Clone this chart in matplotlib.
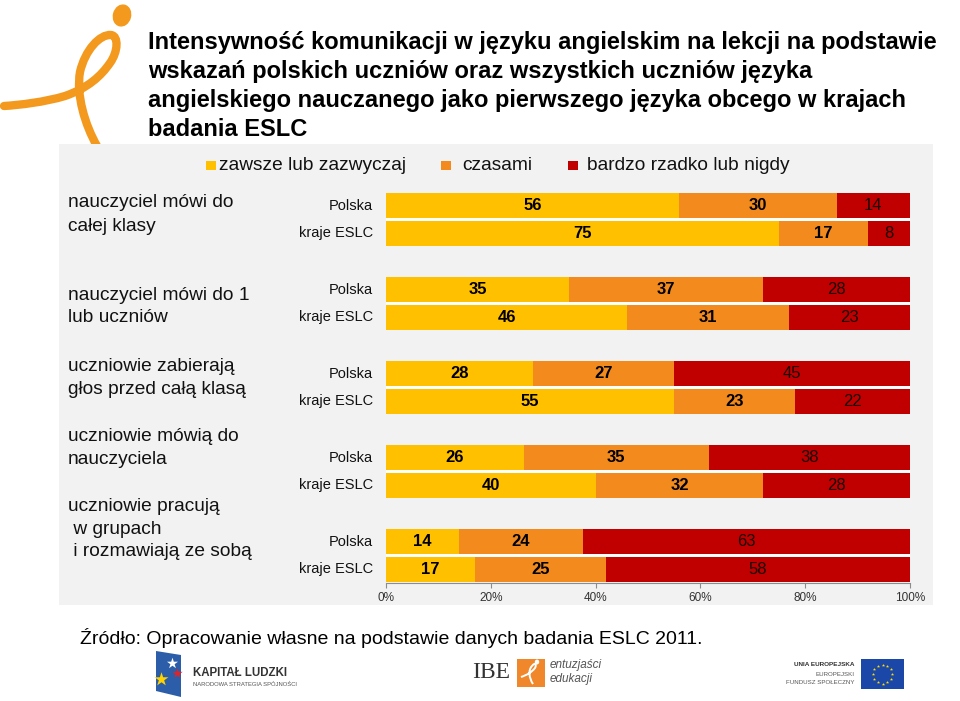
import numpy as np
import matplotlib
matplotlib.use("Agg")
import matplotlib.pyplot as plt
from matplotlib.patches import Rectangle, Ellipse, Polygon, PathPatch
from matplotlib.path import Path

plt.rcParams['font.family'] = ['Liberation Sans', 'DejaVu Sans']

# ---------------- data ----------------
title_lines = [
    "Intensywność komunikacji w języku angielskim na lekcji na podstawie",
    "wskazań polskich uczniów oraz wszystkich uczniów języka",
    "angielskiego nauczanego jako pierwszego języka obcego w krajach",
    "badania ESLC",
]
categories = [
    ["nauczyciel mówi do", "całej klasy"],
    ["nauczyciel mówi do 1", "lub uczniów"],
    ["uczniowie zabierają", "głos przed całą klasą"],
    ["uczniowie mówią do", "nauczyciela"],
    ["uczniowie pracują", " w grupach", " i rozmawiają ze sobą"],
]
groups = ["Polska", "kraje ESLC"]
series_names = ["zawsze lub zazwyczaj", "czasami", "bardzo rzadko lub nigdy"]
# values per category: [Polska, kraje ESLC]
zawsze = [[56, 75], [35, 46], [28, 55], [26, 40], [14, 17]]
czasami = [[30, 17], [37, 31], [27, 23], [35, 32], [24, 25]]
rzadko = [[14, 8], [28, 23], [45, 22], [38, 28], [63, 58]]
xticks = [0, 20, 40, 60, 80, 100]
xtick_labels = ["0%", "20%", "40%", "60%", "80%", "100%"]
source = "Źródło: Opracowanie własne na podstawie danych badania ESLC 2011."

colors = ["#FFC000", "#F28A1E", "#C00000"]
panel_col = "#F2F2F2"
logo_orange = "#F39A1E"

W, H = 960, 701
fig = plt.figure(figsize=(W / 100, H / 100), dpi=100)
fig.patch.set_facecolor("white")

# overlay axes in pixel coordinates
ax0 = fig.add_axes([0, 0, 1, 1], zorder=0)
ax0.set_xlim(0, W)
ax0.set_ylim(H, 0)
ax0.axis("off")

# logo (cursive i)
verts = [(97, 146), (85, 125), (76, 95), (80, 72),
         (85, 50), (100, 34), (111, 35),
         (119, 36), (118, 52), (110, 63),
         (101, 76), (88, 88), (65, 96),
         (45, 102), (20, 105), (4, 106)]
codes = [Path.MOVETO] + [Path.CURVE4] * 15
ax0.add_patch(PathPatch(Path(verts, codes), facecolor="none", edgecolor=logo_orange,
                        lw=6.0, capstyle="round", zorder=1))
ax0.add_patch(Ellipse((122, 15.5), 17, 21, angle=15, color=logo_orange, zorder=1))

# title
for i, line in enumerate(title_lines):
    ax0.text(148, 43 + 28.8 * i, line, fontsize=17, fontweight="bold",
             ha="left", va="center", color="black", zorder=3)

# grey panel
ax0.add_patch(Rectangle((59, 144), 933 - 59, 605 - 144, facecolor=panel_col,
                        edgecolor="none", zorder=2))

# legend
leg_sq_x = [206, 441, 568]
leg_tx_x = [219, 462, 587]
for c, name, sx, tx in zip(colors, series_names, leg_sq_x, leg_tx_x):
    ax0.add_patch(Rectangle((sx, 160.5), 9.5, 9.5, facecolor=c, edgecolor="none", zorder=3))
    ax0.text(tx, 165.5, name, fontsize=13.8, ha="left", va="center", color="#111111", zorder=3)

# category labels & group labels
pitch = 84
pol_c0, esl_c0 = 205.5, 233.5
cat_line_y = [[202.7, 226.7], [295, 318], [366.7, 390], [436.7, 459.3], [506.7, 529.3, 551.7]]
for lines, ys in zip(categories, cat_line_y):
    for ln, yy in zip(lines, ys):
        ax0.text(68, yy, ln, fontsize=13.8, ha="left", va="center", color="#111111", zorder=3)
for g in range(len(categories)):
    for k, lab in enumerate(groups):
        ax0.text(373, pol_c0 + pitch * g + 28 * k, lab, fontsize=10.5, ha="right",
                 va="center", color="#111111", zorder=3)

# source
ax0.text(80, 638, source, fontsize=14, ha="left", va="center", color="black", zorder=3)

# ---- footer logos ----
# Kapitał Ludzki
ax0.add_patch(Polygon([(156, 651), (181, 655), (181, 697), (156, 691)], closed=True,
                      facecolor="#2B5DA8", edgecolor="none", zorder=3))
ax0.scatter([172], [663], s=70, marker="*", color="white", zorder=4, linewidths=0)
ax0.scatter([177], [673], s=60, marker="*", color="#D7262E", zorder=4, linewidths=0)
ax0.scatter([161], [679], s=110, marker="*", color="#FFD200", zorder=4, linewidths=0)
ax0.text(193, 673, "KAPITAŁ LUDZKI", fontsize=8.3, fontweight="bold", color="#333333",
         ha="left", va="center", zorder=3)
ax0.text(193, 684, "NARODOWA STRATEGIA SPÓJNOŚCI", fontsize=4.2, color="#555555",
         ha="left", va="center", zorder=3)
# IBE
ax0.text(472, 672, "IBE", fontsize=17, family=["Liberation Serif", "DejaVu Serif"],
         color="#333333", ha="left", va="center", zorder=3)
ax0.add_patch(Rectangle((517, 659), 28, 28, facecolor="#F0882B", edgecolor="none", zorder=3))
sv = [(533, 684), (529, 678), (528, 670), (532, 666),
      (535, 662), (537, 664), (535, 668),
      (532, 672), (527, 675), (521, 677)]
ax0.add_patch(PathPatch(Path(sv, [Path.MOVETO] + [Path.CURVE4] * 9), facecolor="none",
                        edgecolor="white", lw=1.4, zorder=4))
ax0.add_patch(Ellipse((537, 662), 3, 3.5, color="white", zorder=4))
ax0.text(550, 665, "entuzjaści", fontsize=8.5, style="italic", color="#555555",
         ha="left", va="center", zorder=3)
ax0.text(550, 679, "edukacji", fontsize=8.5, style="italic", color="#555555",
         ha="left", va="center", zorder=3)
# EU
ax0.text(855, 665, "UNIA EUROPEJSKA", fontsize=4.6, fontweight="bold", color="#333333",
         ha="right", va="center", zorder=3)
ax0.text(855, 674, "EUROPEJSKI", fontsize=4.4, color="#555555", ha="right", va="center", zorder=3)
ax0.text(855, 683, "FUNDUSZ SPOŁECZNY", fontsize=4.4, color="#555555", ha="right",
         va="center", zorder=3)
ax0.add_patch(Rectangle((861, 659), 43, 30, facecolor="#1A47A8", edgecolor="none", zorder=3))
ang = np.linspace(0, 2 * np.pi, 13)[:-1]
ax0.scatter(882.5 + 9.5 * np.cos(ang), 674 + 9.5 * np.sin(ang), s=6, marker="*",
            color="#FFDD00", zorder=4, linewidths=0)

# ---------------- bar axes ----------------
x0_px, x1_px = 386, 910
y_top, y_bot = 183, 582.5
ax = fig.add_axes([x0_px / W, 1 - y_bot / H, (x1_px - x0_px) / W, (y_bot - y_top) / H],
                  zorder=5)
ax.set_facecolor("none")
ax.set_xlim(0, 100)
ax.set_ylim(y_bot, y_top)

bar_h = 25
for g in range(len(categories)):
    # white backing strip between the paired bars
    ax.barh(pol_c0 + pitch * g + 14, 100, height=3.2, left=0, color="white", zorder=1)
    for k in range(2):
        yc = pol_c0 + pitch * g + 28 * k
        vals = [zawsze[g][k], czasami[g][k], rzadko[g][k]]
        tot = float(sum(vals))
        left = 0.0
        for s, v in enumerate(vals):
            w = v / tot * 100
            ax.barh(yc, w, height=bar_h, left=left, color=colors[s], edgecolor="none", zorder=2)
            if s < 2:
                ax.text(left + w / 2, yc + 0.5, str(v), ha="center", va="center",
                        fontsize=12, fontweight="bold", color="black", zorder=3)
            else:
                ax.text(left + w / 2, yc + 0.5, str(v), ha="center", va="center",
                        fontsize=12, color="#1A0000", zorder=3)
            left += w

for sp in ["top", "left", "right"]:
    ax.spines[sp].set_visible(False)
ax.spines["bottom"].set_color("#8C8C8C")
ax.spines["bottom"].set_linewidth(0.8)
ax.set_yticks([])
ax.set_xticks(xticks)
ax.set_xticklabels(xtick_labels)
ax.tick_params(axis="x", direction="out", length=3.5, width=0.8, color="#8C8C8C",
               labelsize=8.5, labelcolor="#333333", pad=3)

fig.savefig("out.png", dpi=100, facecolor="white")
